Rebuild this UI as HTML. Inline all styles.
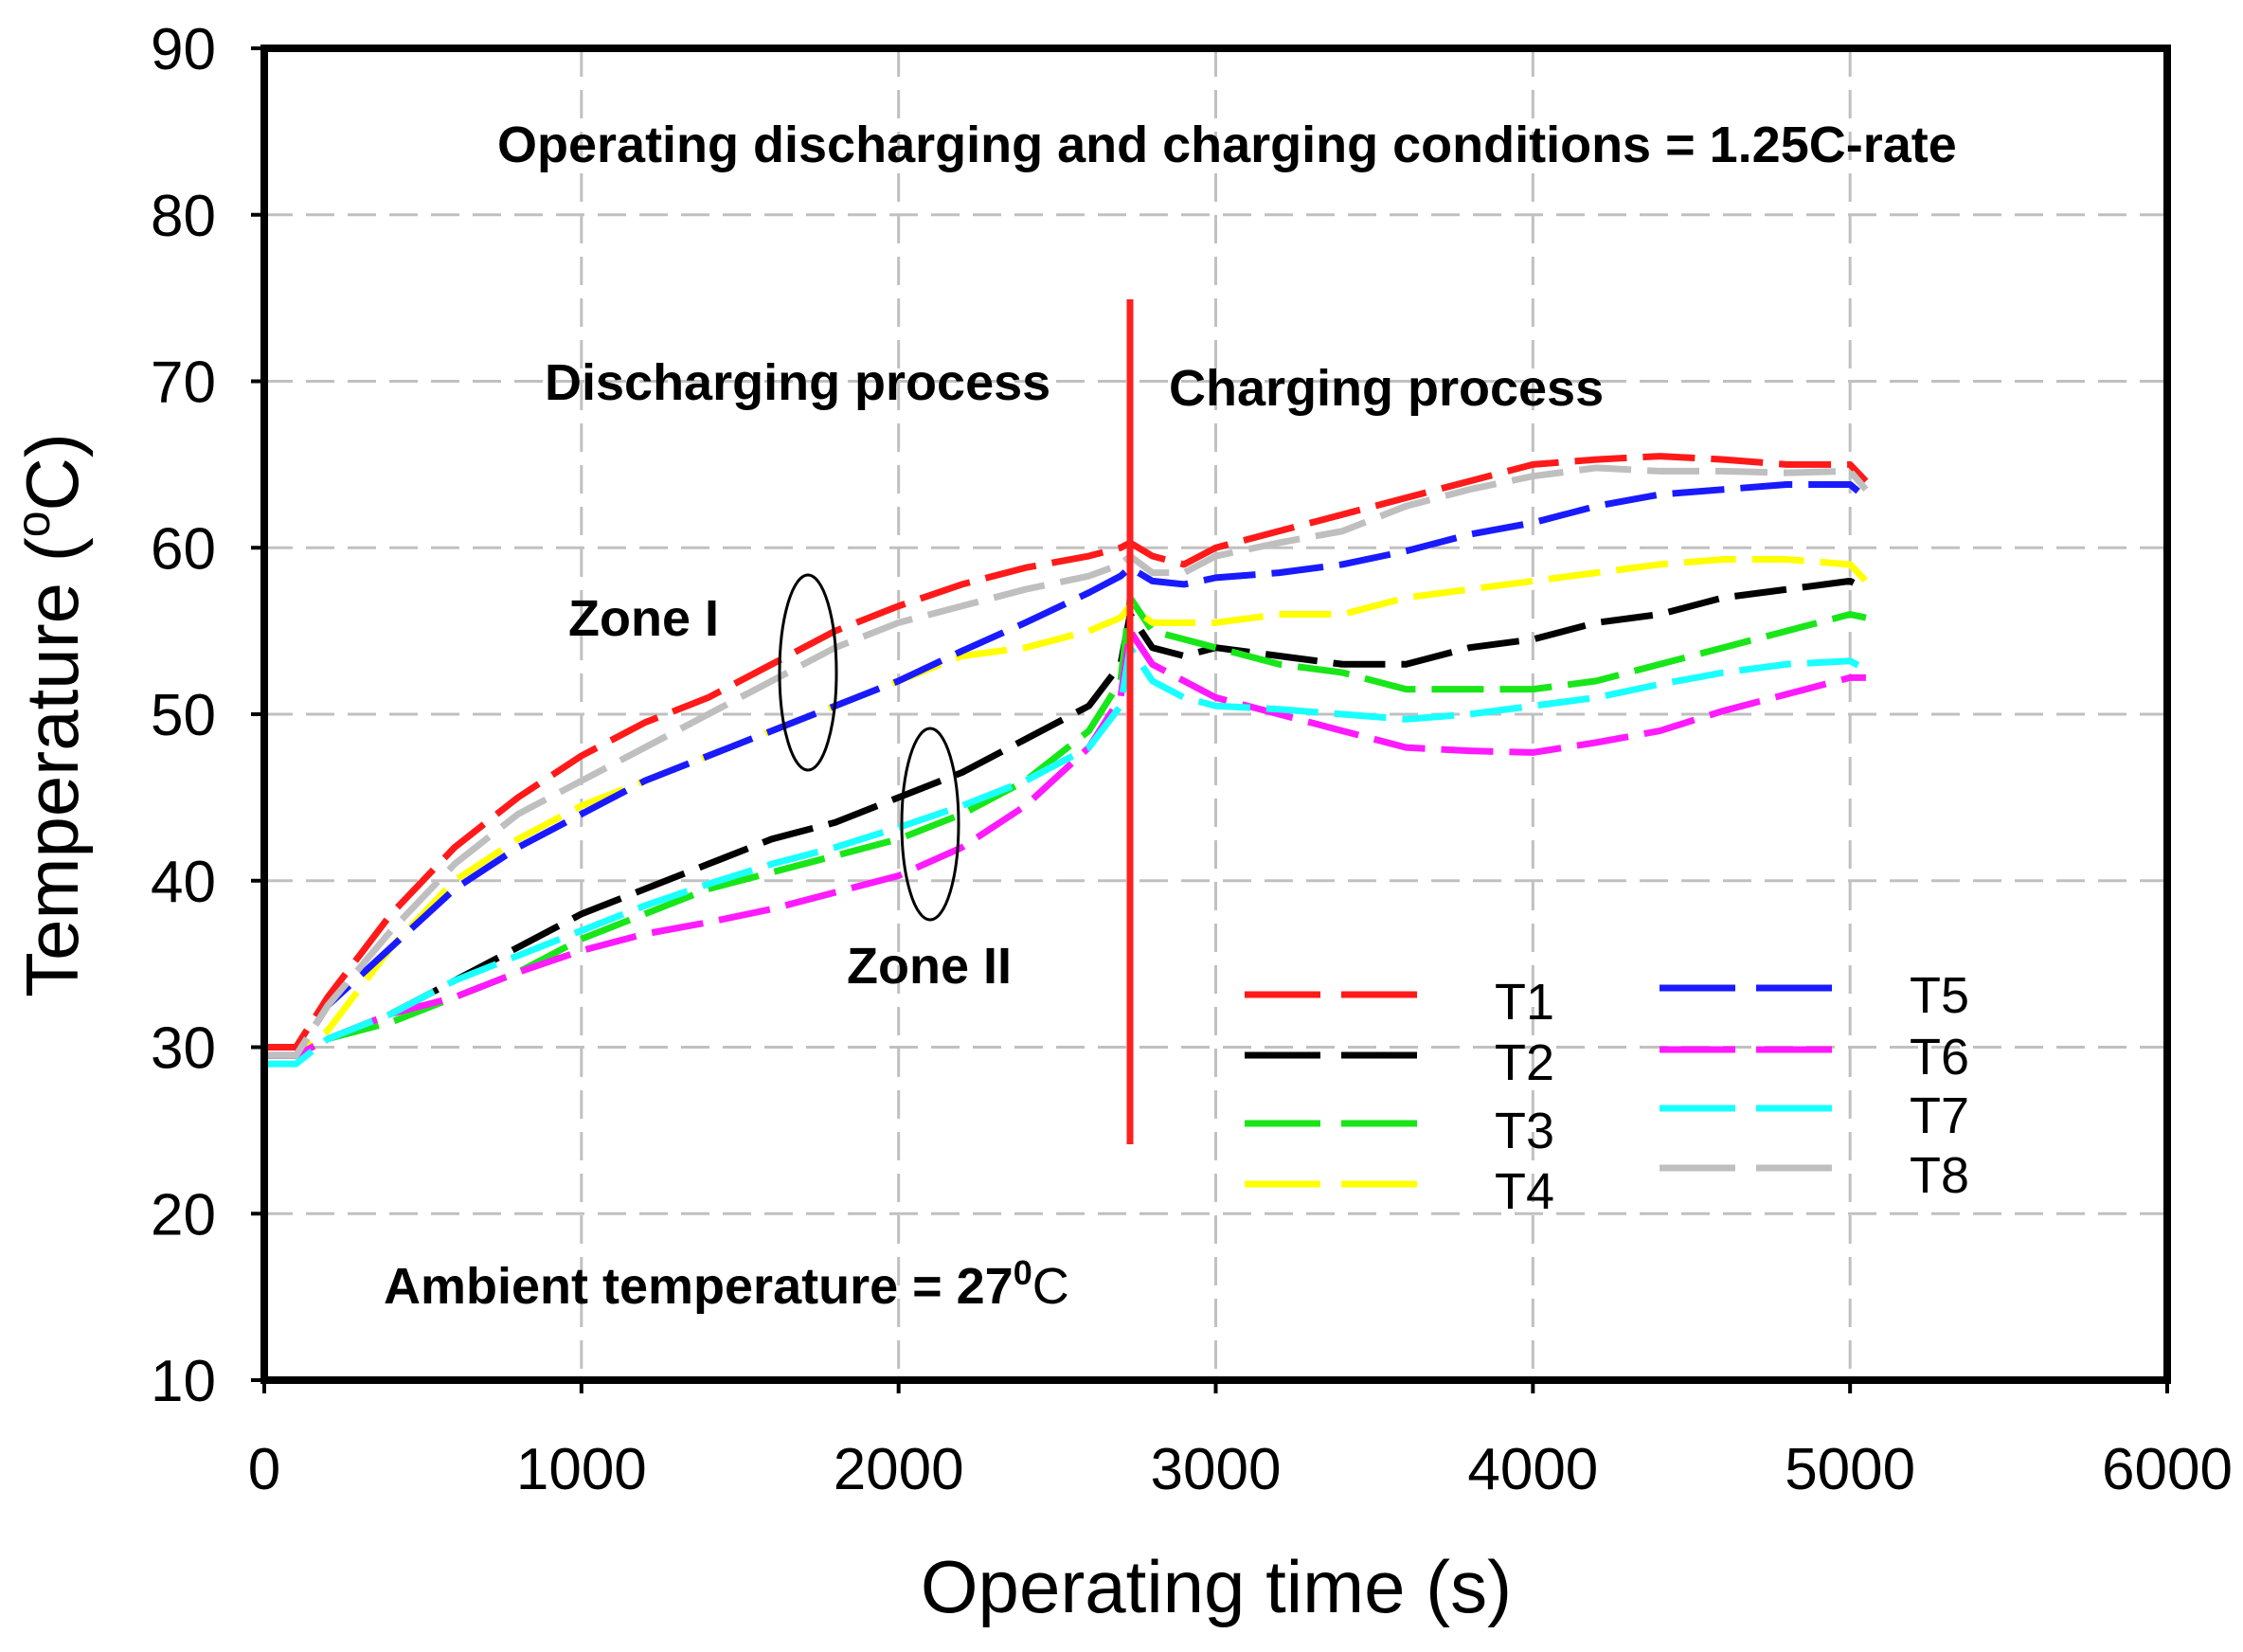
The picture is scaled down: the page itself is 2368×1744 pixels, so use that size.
<!DOCTYPE html>
<html><head><meta charset="utf-8"><style>
html,body{margin:0;padding:0;background:#fff;}
svg text{font-family:"Liberation Sans",Arial,sans-serif;}
</style></head><body>
<svg id="chart" width="2368" height="1739" viewBox="0 0 2368 1739" xmlns="http://www.w3.org/2000/svg">
<g id="grid"></g>
<g id="series"></g>
<rect x="279" y="51" width="2009" height="1406" fill="none" stroke="#000" stroke-width="8"/>
<g id="ticks"></g>
<line x1="1193" y1="316" x2="1193" y2="1208" stroke="#ff2020" stroke-width="7"/>
<text x="525" y="171" font-size="54" font-weight="bold">Operating discharging and charging conditions = 1.25C-rate</text>
<text x="575" y="422" font-size="54" font-weight="bold">Discharging process</text>
<text x="1234" y="428" font-size="54" font-weight="bold">Charging process</text>
<text x="600" y="671" font-size="54" font-weight="bold">Zone I</text>
<text x="894" y="1038" font-size="54" font-weight="bold">Zone II</text>
<ellipse cx="853" cy="710" rx="30" ry="103" fill="none" stroke="#000" stroke-width="3"/>
<ellipse cx="982" cy="870" rx="30" ry="101" fill="none" stroke="#000" stroke-width="3"/>
<text x="405" y="1376" font-size="54" font-weight="bold">Ambient temperature = 27<tspan font-size="36" dy="-20">0</tspan><tspan dy="20" font-weight="normal">C</tspan></text>
<text x="1284" y="1702" font-size="78" text-anchor="middle">Operating time (s)</text>
<text transform="translate(82,755) rotate(-90)" font-size="78" text-anchor="middle">Temperature (<tspan font-size="50" dy="-30">o</tspan><tspan dy="30">C)</tspan></text>
<g id="legend"></g>
</svg>
<script>
const NS="http://www.w3.org/2000/svg";
const xTicks=[0,1000,2000,3000,4000,5000,6000];
const yTicks=[10,20,30,40,50,60,70,80,90];
const seriesNames=["T1","T2","T3","T4","T5","T6","T7","T8"];
const seriesColors=["#ff1a1a","#000000","#19e619","#ffff00","#1a1aff","#ff1aff","#1affff","#bfbfbf"];
const times=[0,100,200,400,600,800,1000,1200,1400,1600,1800,2000,2200,2400,2600,2700,2730,2800,2900,3000,3200,3400,3600,3800,4000,4200,4400,4600,4800,5000,5050];
const T1=[30,30,33,38,42,45,47.5,49.5,51,53,55,56.5,57.8,58.8,59.5,60,60.3,59.5,59,60,61,62,63,64,65,65.3,65.5,65.3,65,65,64];
const T2=[29.5,29.5,30.5,32,34,36,38,39.5,41,42.5,43.5,45,46.5,48.5,50.5,53,56,54,53.5,54,53.5,53,53,54,54.5,55.5,56,57,57.5,58,57.5];
const T3=[29.5,29.5,30.5,31.5,33,34.5,36.5,38,39.5,40.5,41.5,42.5,44,46,49,52,57,55,54.5,54,53,52.5,51.5,51.5,51.5,52,53,54,55,56,55.8];
const T4=[29.5,29.5,31,36,40,42.5,44.5,46,47.5,49,50.5,52,53.5,54,55,55.8,56.5,55.5,55.5,55.5,56,56,57,57.5,58,58.5,59,59.3,59.3,59,58];
const T5=[29.5,29.5,32.5,36,39.5,42,44,46,47.5,49,50.5,52,53.8,55.5,57.3,58.3,58.8,58,57.8,58.2,58.5,59,59.8,60.8,61.5,62.5,63.2,63.5,63.8,63.8,63];
const T6=[29.5,29.5,30.5,32,33,34.5,35.8,36.8,37.5,38.3,39.3,40.3,42,44.5,48,51,55,53,52,51,50,49,48,47.8,47.7,48.3,49,50.2,51.2,52.2,52.2];
const T7=[29,29,30.5,32,34,35.5,37,38.5,39.8,41,42,43.2,44.5,46,48,50.5,54,52,51,50.5,50.3,50,49.7,50,50.5,51,51.8,52.5,53,53.2,52.7];
const T8=[29.5,29.5,32.5,37,41,44,46,48,50,52,54,55.5,56.5,57.5,58.3,59,59.5,58.5,58.5,59.5,60.3,61,62.5,63.5,64.3,64.8,64.6,64.6,64.5,64.6,63.5];
const allSeries=[T1,T2,T3,T4,T5,T6,T7,T8];
const X0=279,X1=2288,Y0=1457,Y1=51;
function sx(v){return X0+(v-0)/(6000-0)*(X1-X0);}
function sy(v){return Y0-(v-10)/(90-10)*(Y0-Y1);}
function mk(tag,attrs,parent){const e=document.createElementNS(NS,tag);for(const k in attrs)e.setAttribute(k,attrs[k]);parent.appendChild(e);return e;}
const grid=document.getElementById('grid'),ticks=document.getElementById('ticks');
xTicks.forEach(t=>{
  if(t>0&&t<6000){const l=mk('line',{x1:sx(t),x2:sx(t),y1:Y1,y2:Y0,stroke:'#c0c0c0','stroke-width':3,'stroke-dasharray':'30 14'},grid);
  
  }
  const tk=mk('line',{x1:sx(t),x2:sx(t),y1:Y0,y2:Y0+14,stroke:'#000','stroke-width':4},ticks);
  
  
  const tx=mk('text',{x:sx(t),y:1572,'font-size':62,'text-anchor':'middle'},ticks);tx.textContent=t;
  
  
});
yTicks.forEach(t=>{
  if(t>10&&t<90){const l=mk('line',{x1:X0,x2:X1,y1:sy(t),y2:sy(t),stroke:'#c0c0c0','stroke-width':3,'stroke-dasharray':'30 14'},grid);
  
  }
  const tk=mk('line',{x1:X0-14,x2:X0,y1:sy(t),y2:sy(t),stroke:'#000','stroke-width':4},ticks);
  
  
  const tx=mk('text',{x:228,y:sy(t)+22,'font-size':62,'text-anchor':'end'},ticks);tx.textContent=t;
  
  
});
const sg=document.getElementById('series');
allSeries.forEach((s,i)=>{
  const pts=s.map((v,j)=>sx(times[j])+','+sy(v)).join(' ');
  const p=mk('polyline',{points:pts,fill:'none',stroke:seriesColors[i],'stroke-width':7,'stroke-dasharray':'55 17','stroke-linejoin':'round'},sg);
  
  
});
const lg=document.getElementById('legend');
const rowsY=[[1050,1114,1186,1250],[1043,1108,1170,1233]];
seriesNames.forEach((n,i)=>{
  const col=i<4?0:1,row=i%4,y=rowsY[col][row];
  const lx=col?1752:1314,tx=col?2016:1578;
  const l=mk('line',{x1:lx,x2:lx+182,y1:y,y2:y,stroke:seriesColors[i],'stroke-width':7,'stroke-dasharray':'80 22'},lg);
  
  
  const t=mk('text',{x:tx,y:y+26,'font-size':54},lg);t.textContent=n;
  
  
});
</script>
</body></html>
